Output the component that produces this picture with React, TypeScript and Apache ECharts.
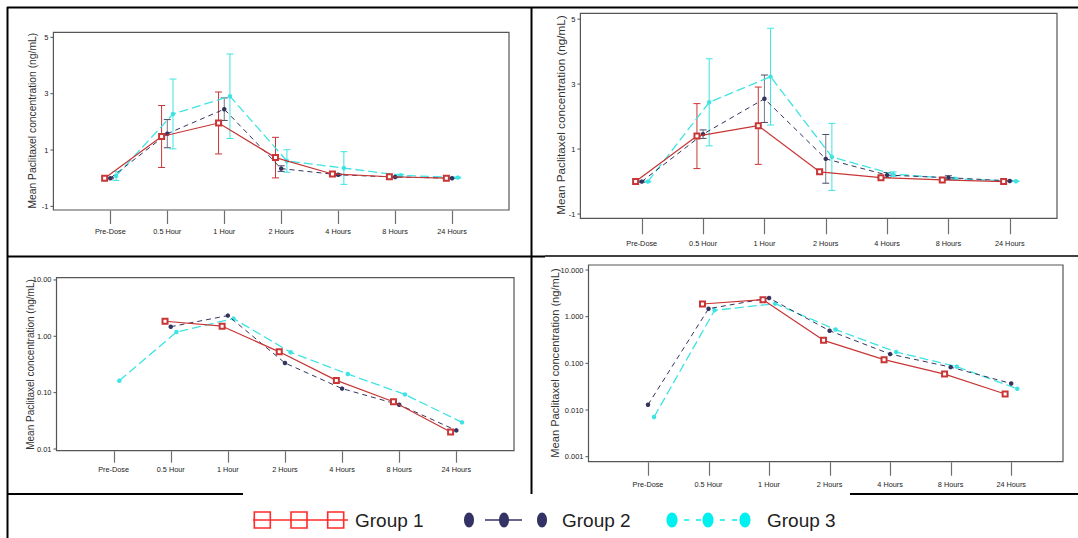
import React, { useEffect, useRef } from "react";
import * as echarts from "echarts";

// ---------- data ----------
const timepoints = ["Pre-Dose", "0.5 Hour", "1 Hour", "2 Hours", "4 Hours", "8 Hours", "24 Hours"];
const groupNames = ["Group 1", "Group 2", "Group 3"];

// Panel A (top-left, linear, mean ± SD)
const aG1 = [0, 1.48, 1.96, 0.73, 0.15, 0.05, 0.0];
const aG1Sd = [0, 1.1, 1.1, 0.72, 0.03, 0.02, 0];
const aG2 = [0, 1.58, 2.45, 0.34, 0.12, 0.04, 0.0];
const aG2Sd = [0.02, 0.5, 0.4, 0.1, 0.03, 0.02, 0.01];
const aG3 = [0.08, 2.28, 2.91, 0.61, 0.36, 0.1, 0.02];
const aG3Sd = [0.16, 1.24, 1.5, 0.4, 0.58, 0.04, 0.02];

// Panel B (top-right, linear, mean ± SD)
const bG1 = [0, 1.4, 1.72, 0.3, 0.12, 0.05, 0.0];
const bG1Sd = [0, 1.0, 1.19, 0.04, 0.02, 0.01, 0];
const bG2 = [0, 1.46, 2.55, 0.7, 0.2, 0.12, 0.02];
const bG2Sd = [0.02, 0.13, 0.73, 0.75, 0.08, 0.06, 0.01];
const bG3 = [0, 2.44, 3.23, 0.76, 0.23, 0.09, 0.01];
const bG3Sd = [0.01, 1.34, 1.49, 1.03, 0.07, 0.03, 0.01];

// Panel C (bottom-left, log)
const cG1 = [null, 1.85, 1.51, 0.53, 0.165, 0.069, 0.02];
const cG2 = [null, 1.48, 2.33, 0.336, 0.118, 0.061, 0.0214];
const cG3 = [0.163, 1.19, 2.06, 0.52, 0.214, 0.093, 0.0297];

// Panel D (bottom-right, log)
const dG1 = [null, 1.87, 2.31, 0.311, 0.12, 0.059, 0.022];
const dG2 = [0.013, 1.48, 2.51, 0.5, 0.158, 0.083, 0.037];
const dG3 = [0.0071, 1.37, 1.9, 0.53, 0.175, 0.085, 0.0286];

// tick labels
const xTickPos = [1, 2, 3, 4, 5, 6, 7];
const linTicks = [-1, 1, 3, 5];
const logTicksC = [0.01, 0.1, 1, 10];
const logTicksD = [0.001, 0.01, 0.1, 1, 10];
const yTitle = "Mean Paclitaxel concentration (ng/mL)";

// ---------- styles ----------
const SANS = "'Liberation Sans', Arial, sans-serif";
const C1 = "#c83636";
const C2 = "#34345e";
const C3 = "#3fe3e3";
const OFFS = [-0.1, 0, 0.1];
const COLS = [C1, C2, C3];

type Panel = {
  grid: { left: number; top: number; width: number; height: number };
  xMin: number; xMax: number;
  yType: "value" | "log"; yMin: number; yMax: number;
  yTicks: number[]; yFmt: (v: number) => string;
  series: (number | null)[][];
  sds?: number[][];
  title: { x: number; y: number; size: number };
  tickLen: number; labelMargin: number;
};

const panels: Panel[] = [
  {
    grid: { left: 53.4, top: 32.3, width: 455.6, height: 177.7 },
    xMin: 0, xMax: 8, yType: "value", yMin: -1.13, yMax: 5.18,
    yTicks: linTicks, yFmt: (v) => String(v),
    series: [aG1, aG2, aG3], sds: [aG1Sd, aG2Sd, aG3Sd],
    title: { x: 32, y: 120.7, size: 10.3 },
    tickLen: 14, labelMargin: 18,
  },
  {
    grid: { left: 580.4, top: 13.3, width: 476.6, height: 205 },
    xMin: 0, xMax: 7.77, yType: "value", yMin: -1.13, yMax: 5.18,
    yTicks: linTicks, yFmt: (v) => String(v),
    series: [bG1, bG2, bG3], sds: [bG1Sd, bG2Sd, bG3Sd],
    title: { x: 560, y: 115, size: 11.7 },
    tickLen: 16, labelMargin: 21.5,
  },
  {
    grid: { left: 56.5, top: 277.7, width: 457.5, height: 173 },
    xMin: 0, xMax: 8.01, yType: "log", yMin: 0.00933, yMax: 10.96,
    yTicks: logTicksC, yFmt: (v) => v.toFixed(2),
    series: [cG1, cG2, cG3],
    title: { x: 30.3, y: 364.5, size: 10 },
    tickLen: 12, labelMargin: 15,
  },
  {
    grid: { left: 588.5, top: 265, width: 474.5, height: 196.7 },
    xMin: 0.017, xMax: 7.856, yType: "log", yMin: 0.000782, yMax: 12.8,
    yTicks: logTicksD, yFmt: (v) => v.toFixed(3),
    series: [dG1, dG2, dG3],
    title: { x: 555, y: 363, size: 11.1 },
    tickLen: 14, labelMargin: 19,
  },
];

const YTICK = 3;

function buildOption() {
  const grids: any[] = [];
  const xAxes: any[] = [];
  const yAxes: any[] = [];
  const series: any[] = [];
  const graphics: any[] = [];

  panels.forEach((p, pi) => {
    grids.push({ ...p.grid, show: true, borderColor: "#555", borderWidth: 1.2, backgroundColor: "#fff" });

    xAxes.push({
      type: "value",
      gridIndex: pi,
      position: "bottom",
      min: p.xMin,
      max: p.xMax,
      axisLine: { show: false, onZero: false },
      splitLine: { show: false },
      axisTick: { show: false },
      axisLabel: {
        customValues: xTickPos,
        formatter: (v: number) => timepoints[Math.round(v) - 1] ?? "",
        margin: p.labelMargin,
        fontSize: 7.3,
        fontFamily: SANS,
        color: "#222",
      },
    });
    yAxes.push({
      type: p.yType,
      gridIndex: pi,
      position: "left",
      min: p.yMin,
      max: p.yMax,
      axisLine: { show: false, onZero: false },
      splitLine: { show: false },
      axisTick: { show: false },
      axisLabel: {
        customValues: p.yTicks,
        formatter: p.yFmt,
        margin: YTICK + 2,
        fontSize: 7.5,
        fontFamily: SANS,
        color: "#222",
      },
    });

    // error bars (behind lines)
    if (p.sds) {
      p.series.forEach((vals, gi) => {
        const sd = p.sds![gi];
        const data = vals
          .map((v, i) => (v == null || !sd[i] ? null : [i + 1 + OFFS[gi], v - sd[i], v + sd[i]]))
          .filter((d) => d != null);
        series.push({
          type: "custom",
          name: groupNames[gi] + " SD",
          xAxisIndex: pi,
          yAxisIndex: pi,
          coordinateSystem: "cartesian2d",
          encode: { x: 0, y: [1, 2] },
          data,
          silent: true,
          z: 1,
          renderItem: (params: any, api: any) => {
            const x = api.value(0);
            const top = api.coord([x, api.value(2)]);
            const bot = api.coord([x, api.value(1)]);
            const hw = 3.5;
            const st = { stroke: gi === 1 ? "#4a4a66" : COLS[gi], lineWidth: 1 };
            return {
              type: "group",
              children: [
                { type: "line", shape: { x1: top[0], y1: top[1], x2: bot[0], y2: bot[1] }, style: { ...st, stroke: gi === 1 ? "#77778a" : st.stroke } },
                { type: "line", shape: { x1: top[0] - hw, y1: top[1], x2: top[0] + hw, y2: top[1] }, style: st },
                { type: "line", shape: { x1: bot[0] - hw, y1: bot[1], x2: bot[0] + hw, y2: bot[1] }, style: st },
              ],
            };
          },
        });
      });
    }

    p.series.forEach((vals, gi) => {
      const data = vals
        .map((v, i) => (v == null ? null : [i + 1 + OFFS[gi], v]))
        .filter((d) => d != null);
      series.push({
        type: "line",
        name: groupNames[gi],
        xAxisIndex: pi,
        yAxisIndex: pi,
        data,
        z: 5 - gi,
        symbol: gi === 0 ? "emptyRect" : "circle",
        symbolSize: gi === 0 ? 5 : 4.5,
        showSymbol: true,
        lineStyle: {
          color: COLS[gi],
          width: gi === 0 ? 1.2 : gi === 1 ? 1 : 1.3,
          type: gi === 0 ? "solid" : gi === 1 ? [5, 4] : [9, 4],
        },
        itemStyle: {
          color: COLS[gi],
          borderWidth: gi === 0 ? 1 : 0,
        },
      });
    });

    graphics.push({
      type: "text",
      x: p.title.x,
      y: p.title.y,
      rotation: Math.PI / 2,
      style: {
        text: yTitle,
        fontSize: p.title.size,
        fontFamily: SANS,
        fill: "#333",
        align: "center",
        verticalAlign: "middle",
      },
    });
  });

  // frame / border lines
  const B = (x1: number, y1: number, x2: number, y2: number, w = 2) => ({
    type: "line",
    shape: { x1, y1, x2, y2 },
    style: { stroke: "#000", lineWidth: w },
    z: 100,
  });
  graphics.push(B(7, 7.5, 1078, 7.5));
  graphics.push(B(7.5, 7, 7.5, 538));
  graphics.push(B(531.5, 7, 531.5, 494));
  graphics.push(B(7, 256.5, 545, 256.5));
  graphics.push(B(545, 256, 1078, 256, 1.5));
  graphics.push(B(7, 494, 243, 494));
  graphics.push(B(850, 494, 1078, 494));

  // legend
  const LR = "#ff2a2a";
  const LN = "#333366";
  const LC = "#00f0f0";
  const ly = 520;
  graphics.push({ type: "line", shape: { x1: 253, y1: ly, x2: 348, y2: ly }, style: { stroke: LR, lineWidth: 1.6 } });
  [262.3, 299, 335.7].forEach((cx) =>
    graphics.push({ type: "rect", shape: { x: cx - 8, y: ly - 8, width: 16, height: 16 }, style: { stroke: LR, lineWidth: 1.6, fill: "none" } })
  );
  graphics.push({ type: "text", x: 355, y: ly, style: { text: groupNames[0], fontSize: 19, fontFamily: SANS, fill: "#222", verticalAlign: "middle" } });

  graphics.push({ type: "line", shape: { x1: 485, y1: ly, x2: 522, y2: ly }, style: { stroke: LN, lineWidth: 1.6 } });
  [469, 504, 542].forEach((cx) =>
    graphics.push({ type: "ellipse", shape: { cx, cy: ly, rx: 5, ry: 7.5 }, style: { fill: LN } })
  );
  graphics.push({ type: "text", x: 562, y: ly, style: { text: groupNames[1], fontSize: 19, fontFamily: SANS, fill: "#222", verticalAlign: "middle" } });

  graphics.push({ type: "line", shape: { x1: 672, y1: ly, x2: 745, y2: ly }, style: { stroke: LC, lineWidth: 1.6, lineDash: [5, 7] } });
  [672, 708, 745].forEach((cx) =>
    graphics.push({ type: "ellipse", shape: { cx, cy: ly, rx: 5.5, ry: 7.5 }, style: { fill: LC } })
  );
  graphics.push({ type: "text", x: 767, y: ly, style: { text: groupNames[2], fontSize: 19, fontFamily: SANS, fill: "#222", verticalAlign: "middle" } });

  return {
    graphics,
    option: {
      animation: false,
      backgroundColor: "#fff",
      grid: grids,
      xAxis: xAxes,
      yAxis: yAxes,
      series,
      graphic: { elements: graphics },
    },
  };
}

// tick marks placed by converting axis values to pixels through each grid's own scales
function tickGraphics(chart: echarts.ECharts) {
  const out: any[] = [];
  panels.forEach((p, pi) => {
    xTickPos.forEach((x) => {
      const pt = chart.convertToPixel({ gridIndex: pi } as any, [x, p.yMin]) as any;
      if (!pt) return;
      const px = Math.round(pt[0]) + 0.5;
      out.push({
        type: "line",
        shape: { x1: px, y1: pt[1] + 0.6, x2: px, y2: pt[1] + p.tickLen },
        style: { stroke: "#6e6e6e", lineWidth: 1.2 },
        z: 90,
        silent: true,
      });
    });
    p.yTicks.forEach((v) => {
      const pt = chart.convertToPixel({ gridIndex: pi } as any, [p.xMin, v]) as any;
      if (!pt) return;
      out.push({
        type: "line",
        shape: { x1: pt[0] - YTICK, y1: pt[1], x2: pt[0], y2: pt[1] },
        style: { stroke: "#555", lineWidth: 1 },
        z: 90,
        silent: true,
      });
    });
  });
  return out;
}

export default function App() {
  const ref = useRef<HTMLDivElement>(null);
  useEffect(() => {
    if (!ref.current) return;
    const chart = echarts.init(ref.current, undefined, { renderer: "svg" });
    const built = buildOption();
    chart.setOption(built.option as any);
    const ticks = tickGraphics(chart);
    chart.setOption({ graphic: { elements: [...built.graphics, ...ticks] } } as any);
    return () => chart.dispose();
  }, []);
  return (
    <div
      ref={ref}
      style={{ position: "absolute", left: 0, top: 0, width: 1078, height: 538, background: "#fff" }}
    />
  );
}
